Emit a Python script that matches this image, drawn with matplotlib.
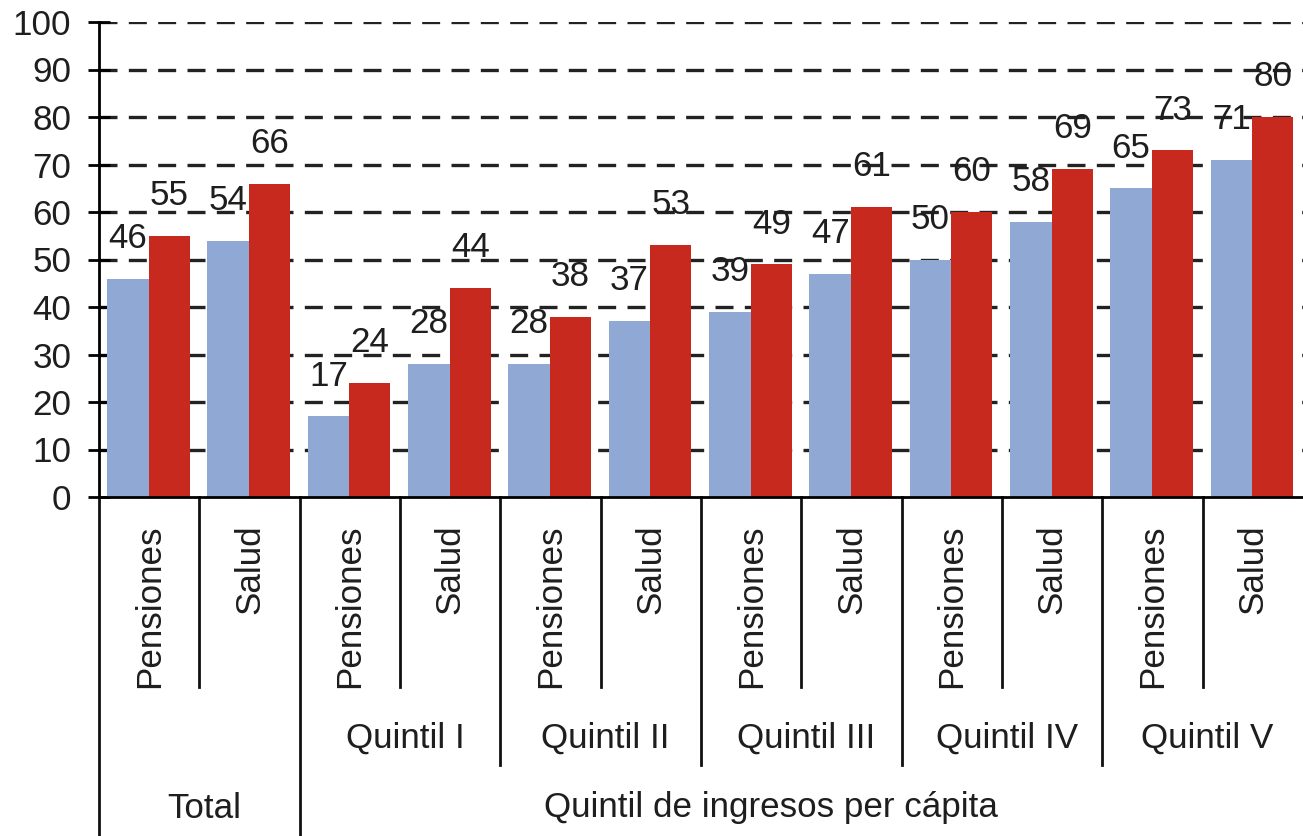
import matplotlib
matplotlib.use("Agg")
import matplotlib.pyplot as plt

plt.rcParams['font.family'] = ['Liberation Sans', 'DejaVu Sans']

# data
groups = ["Total", "Quintil I", "Quintil II", "Quintil III", "Quintil IV", "Quintil V"]
kinds = ["Pensiones", "Salud"]
blue_vals = [46, 54, 17, 28, 28, 37, 39, 47, 50, 58, 65, 71]
red_vals = [55, 66, 24, 44, 38, 53, 49, 61, 60, 69, 73, 80]
yticks = [0, 10, 20, 30, 40, 50, 60, 70, 80, 90, 100]
super_label = "Quintil de ingresos per cápita"

blue = "#8FA8D4"
red = "#C8291F"
txt = "#1e1e1e"
fs = 25.2

W, H = 1303, 836
fig = plt.figure(figsize=(W / 100, H / 100), dpi=100)
# axes box in pixels: x 99..1303, y 22..497
ax = fig.add_axes([99 / W, (H - 497) / H, (1303 - 99) / W, (497 - 22) / H])

n = len(blue_vals)
xs = list(range(n))
bw = 0.415
ax.bar([x + 0.08 for x in xs], blue_vals, width=bw, align='edge', color=blue, zorder=2)
ax.bar([x + 0.495 for x in xs], red_vals, width=0.41, align='edge', color=red, zorder=2)

for x, v in zip(xs, blue_vals):
    ax.text(x + 0.08 + bw / 2, v + 5.0, str(v), ha='center', va='bottom',
            fontsize=fs, color=txt, zorder=3)
for x, v in zip(xs, red_vals):
    ax.text(x + 0.495 + 0.205, v + 5.0, str(v), ha='center', va='bottom',
            fontsize=fs, color=txt, zorder=3)

ax.set_xlim(0, n)
ax.set_ylim(0, 100)
ax.set_yticks(yticks)
ax.set_yticklabels([str(t) for t in yticks], fontsize=fs, color=txt)
ax.tick_params(axis='y', direction='inout', length=16, width=2, pad=12)
ax.set_xticks([])

# dashed grid lines (not on 0)
for t in yticks[1:]:
    ax.axhline(t, color='#222222', lw=2.4, ls=(0, (5.4, 3.4)), zorder=1)

for s in ['top', 'right']:
    ax.spines[s].set_visible(False)
ax.spines['left'].set_linewidth(2)
ax.spines['bottom'].set_linewidth(2)


def fy(ypix):
    # figure pixel row -> axes fraction
    return (497 - ypix) / 475.0


tr = ax.get_xaxis_transform()
lk = dict(color='#111111', lw=2, transform=tr, clip_on=False)

# left axis line continues down to the bottom
ax.plot([0, 0], [0, fy(H + 5)], **lk)

# rotated category labels and separators
for i in range(n):
    ax.text(i + 0.5, fy(524), kinds[i % 2], rotation=90, ha='center', va='top',
            fontsize=fs, color=txt, transform=tr, clip_on=False)
    if i == 0:
        continue
    if i % 2 == 1:
        bottom = 687
    elif i == 2:
        bottom = H + 5
    else:
        bottom = 765
    ax.plot([i, i], [0, fy(bottom)], **lk)

# group labels
ax.text(1.05, fy(808), groups[0], ha='center', va='center', fontsize=fs,
        color=txt, transform=tr, clip_on=False)
for k, g in enumerate(groups[1:]):
    ax.text(2 + 2 * k + 1.05, fy(738), g, ha='center', va='center', fontsize=fs,
            color=txt, transform=tr, clip_on=False)
ax.text(6.7, fy(808), super_label, ha='center', va='center', fontsize=fs,
        color=txt, transform=tr, clip_on=False)

fig.savefig("out.png", dpi=100)
